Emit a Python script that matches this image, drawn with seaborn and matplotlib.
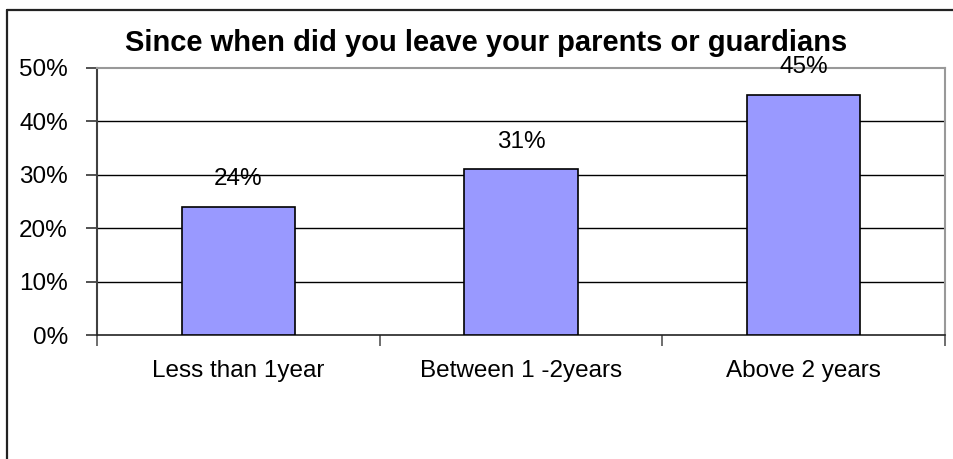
import matplotlib
matplotlib.use("Agg")
import matplotlib.pyplot as plt
from matplotlib.lines import Line2D
import seaborn as sns
import pandas as pd

categories = ["Less than 1year", "Between 1 -2years", "Above 2 years"]
values = [24, 31, 45]
y_ticks = [0, 10, 20, 30, 40, 50]
y_tick_labels = ["0%", "10%", "20%", "30%", "40%", "50%"]
title = "Since when did you leave your parents or guardians"

sns.set_style("white")
plt.rcParams["font.family"] = ["Liberation Sans", "DejaVu Sans"]
plt.rcParams["text.color"] = "black"
plt.rcParams["xtick.color"] = "black"
plt.rcParams["ytick.color"] = "black"
plt.rcParams["axes.labelcolor"] = "black"

df = pd.DataFrame({"category": categories, "value": values})

fig = plt.figure(figsize=(9.54, 4.59), dpi=100)
ax = fig.add_axes([97 / 954, 1 - 335 / 459, (945 - 97) / 954, (335 - 68) / 459])

sns.barplot(data=df, x="category", y="value", ax=ax, color="#9999FF",
            saturation=1, width=0.4, edgecolor="black", linewidth=1.2, zorder=3)

ax.set_xlim(-0.5, 2.5)
ax.set_ylim(0, 50)
ax.set_yticks(y_ticks)
ax.set_yticklabels(y_tick_labels, fontsize=17.5, color="black")
ax.set_xlabel("")
ax.set_ylabel("")

# gridlines
for t in y_ticks[1:-1]:
    ax.axhline(t, color="black", lw=1.0, zorder=1)

# x ticks at category boundaries
ax.set_xticks([0, 1, 2])
ax.set_xticklabels(categories, fontsize=17.5, color="black")
ax.set_xticks([-0.5, 0.5, 1.5, 2.5], minor=True)
ax.tick_params(axis="x", which="major", length=0, pad=18)
ax.tick_params(axis="x", which="minor", length=8, width=1.2, color="#555555", direction="out", bottom=True)
ax.tick_params(axis="y", which="major", length=8, width=1.2, color="#333333", direction="out", left=True, pad=13)

for side in ["left", "right", "top", "bottom"]:
    ax.spines[side].set_visible(True)
ax.spines["left"].set_color("#404040")
ax.spines["left"].set_linewidth(1.5)
ax.spines["bottom"].set_color("#222222")
ax.spines["bottom"].set_linewidth(1.2)
ax.spines["top"].set_color("#999999")
ax.spines["top"].set_linewidth(1.5)
ax.spines["right"].set_color("#999999")
ax.spines["right"].set_linewidth(1.5)

for c in ax.containers:
    ax.bar_label(c, labels=[f"{v}%" for v in values], padding=12, fontsize=17.5, color="black")

fig.text(486 / 954, 1 - 43 / 459, title, ha="center", va="center",
         fontsize=21, fontweight="bold", color="black")

# outer chart frame (left and top edges visible)
fig.add_artist(Line2D([7 / 954, 7 / 954], [0, 1 - 9.5 / 459], transform=fig.transFigure,
                      color="#222222", lw=1.6))
fig.add_artist(Line2D([7 / 954, 1], [1 - 9.5 / 459, 1 - 9.5 / 459], transform=fig.transFigure,
                      color="#222222", lw=1.6))

fig.savefig("out.png", dpi=100)
